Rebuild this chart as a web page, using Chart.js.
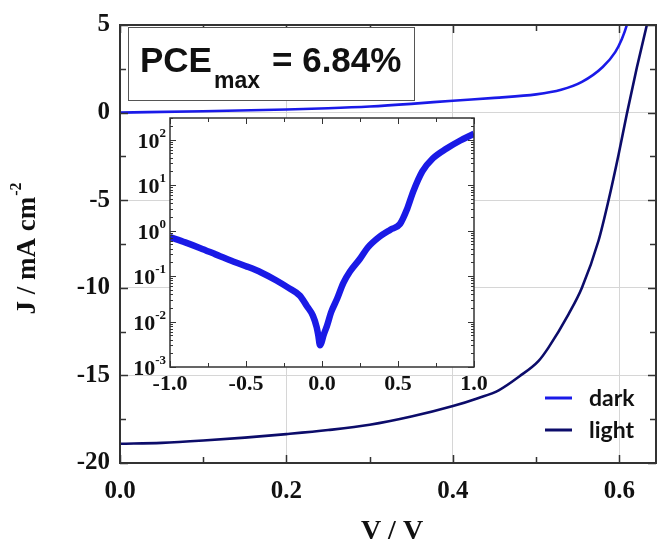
<!DOCTYPE html>
<html>
<head>
    <title>J-V curve</title>
    <script src="https://cdn.jsdelivr.net/npm/chart.js"></script>
    <style>
        body { margin: 0; background: #fff; }
        #wrap { position: relative; width: 657px; height: 542px; overflow: hidden; }
        #main { position: absolute; left: 0; top: 0; }
        #inset { position: absolute; left: 110px; top: 108px; }
    </style>
</head>
<body>
<div id="wrap">
    <canvas id="main" width="657" height="542"></canvas>
    <canvas id="inset" width="400" height="300"></canvas>
</div>
<script>
    // main J-V curves (V in volts, J in mA cm^-2)
    const darkV  = [0.00, 0.10, 0.20, 0.25, 0.30, 0.35, 0.40, 0.45, 0.50, 0.53, 0.555, 0.58, 0.595, 0.603, 0.609, 0.616];
    const darkJ  = [0.00, 0.08, 0.18, 0.25, 0.35, 0.50, 0.68, 0.84, 1.04, 1.30, 1.75, 2.60, 3.45, 4.20, 5.00, 6.30];
    const lightV = [0.00, 0.05, 0.10, 0.15, 0.20, 0.25, 0.30, 0.35, 0.40, 0.43, 0.455, 0.48, 0.503, 0.515, 0.539, 0.555, 0.575, 0.587, 0.599, 0.609, 0.621, 0.633, 0.640];
    const lightJ = [-18.9, -18.85, -18.72, -18.55, -18.35, -18.12, -17.82, -17.35, -16.75, -16.3, -15.85, -15.05, -14.17, -13.4, -11.5, -10.0, -7.3, -5.0, -2.4, -0.06, 2.57, 5.0, 6.3];

    // inset: |J| of dark curve on a log scale
    const insetV = [-1.00, -0.90, -0.80, -0.70, -0.60, -0.50, -0.40, -0.30, -0.22, -0.145, -0.10, -0.06, -0.035, -0.024, -0.013, -0.004, 0.01, 0.033, 0.06, 0.10, 0.14, 0.184, 0.25, 0.30, 0.38, 0.45, 0.513, 0.56, 0.60, 0.66, 0.73, 0.82, 0.91, 1.00];
    const insetJ = [0.72, 0.55, 0.41, 0.30, 0.22, 0.165, 0.12, 0.08, 0.055, 0.037, 0.022, 0.0135, 0.0075, 0.0049, 0.0030, 0.0034, 0.0050, 0.0081, 0.016, 0.032, 0.07, 0.126, 0.24, 0.42, 0.74, 1.05, 1.4, 3.0, 7.2, 20, 39, 64, 96, 135];

    // tick labels
    const xMajor = [0.0, 0.2, 0.4, 0.6];
    const yMajor = [-20, -15, -10, -5, 0, 5];
    const insetXMajor = [-1.0, -0.5, 0.0, 0.5, 1.0];
    const insetExp = [-3, -2, -1, 0, 1, 2];

    const seriesNames = ['dark', 'light'];
    const seriesColors = ['#1a1ae8', '#0c0c6a'];

    const serif = "'Liberation Serif', 'Times New Roman', serif";
    const sans = "'Liberation Sans', Arial, sans-serif";

    const pts = (xs, ys) => xs.map((v, i) => ({ x: v, y: ys[i] }));

    // frame + inward tick marks on all four sides
    const frameTicks = {
        id: 'frameTicks',
        afterDatasetsDraw(chart, args, opts) {
            const { ctx, chartArea: a } = chart;
            const x = chart.scales.x, y = chart.scales.y;
            ctx.save();
            ctx.strokeStyle = '#333';
            ctx.lineWidth = opts.frameWidth;
            ctx.strokeRect(a.left, a.top, a.right - a.left, a.bottom - a.top);
            ctx.lineWidth = opts.tickWidth;
            ctx.beginPath();
            opts.xTicks.forEach(([v, len]) => {
                const p = Math.round(x.getPixelForValue(v)) + 0.5;
                ctx.moveTo(p, a.bottom); ctx.lineTo(p, a.bottom - len);
                ctx.moveTo(p, a.top); ctx.lineTo(p, a.top + len);
            });
            opts.yTicks.forEach(([v, len]) => {
                const p = Math.round(y.getPixelForValue(v)) + 0.5;
                ctx.moveTo(a.left, p); ctx.lineTo(a.left + len, p);
                ctx.moveTo(a.right, p); ctx.lineTo(a.right - len, p);
            });
            ctx.stroke();
            ctx.restore();
        }
    };

    // axis titles, PCE box and legend of the main chart
    const decorations = {
        id: 'decorations',
        afterDraw(chart) {
            const ctx = chart.ctx;
            ctx.save();
            ctx.fillStyle = '#111';

            // y title with superscript
            ctx.translate(28, 249);
            ctx.rotate(-Math.PI / 2);
            ctx.font = 'bold 27px ' + serif;
            const base = 'J / mA cm';
            const bw = ctx.measureText(base).width;
            ctx.font = 'bold 16px ' + serif;
            const sw = ctx.measureText('-2').width;
            const start = -(bw + sw) / 2;
            ctx.textBaseline = 'middle';
            ctx.font = 'bold 27px ' + serif;
            ctx.fillText(base, start, 0);
            ctx.font = 'bold 16px ' + serif;
            ctx.fillText('-2', start + bw + 1, -11);
            ctx.setTransform(1, 0, 0, 1, 0, 0);

            // x title
            ctx.font = 'bold 28px ' + serif;
            ctx.textAlign = 'center';
            ctx.textBaseline = 'alphabetic';
            ctx.fillText('V / V', 392, 539);

            // PCE box
            ctx.fillStyle = '#fff';
            ctx.fillRect(128, 27, 286, 73);
            ctx.strokeStyle = '#555';
            ctx.lineWidth = 1;
            ctx.strokeRect(128.5, 27.5, 286, 73);
            ctx.fillStyle = '#111';
            ctx.textAlign = 'left';
            ctx.font = 'bold 35px ' + sans;
            ctx.fillText('PCE', 140, 72);
            const pw = ctx.measureText('PCE').width;
            ctx.font = 'bold 23px ' + sans;
            ctx.fillText('max', 140 + pw + 2, 88);
            ctx.font = 'bold 35px ' + sans;
            ctx.fillText('= 6.84%', 272, 72);

            // legend
            const rows = [398, 430];
            ctx.font = 'bold 23px Lato, ' + sans;
            ctx.textBaseline = 'middle';
            seriesNames.forEach((name, i) => {
                ctx.strokeStyle = seriesColors[i];
                ctx.lineWidth = 3;
                ctx.beginPath();
                ctx.moveTo(545, rows[i]); ctx.lineTo(572, rows[i]);
                ctx.stroke();
                ctx.fillStyle = '#111';
                ctx.fillText(name, 589, rows[i] + 1);
            });
            ctx.restore();
        }
    };

    const xMinor = [];
    for (let v = 0; v <= 0.6001; v += 0.1) xMinor.push([+v.toFixed(1), Math.abs(v / 0.2 - Math.round(v / 0.2)) < 1e-6 ? 8 : 6]);
    const yMinor = [];
    for (let v = -20; v <= 5; v += 2.5) yMinor.push([v, v % 5 === 0 ? 8 : 6]);

    new Chart(document.getElementById('main'), {
        type: 'scatter',
        data: {
            datasets: [
                { label: seriesNames[0], data: pts(darkV, darkJ), showLine: true, borderColor: seriesColors[0], borderWidth: 2.6, pointRadius: 0, cubicInterpolationMode: 'monotone' },
                { label: seriesNames[1], data: pts(lightV, lightJ), showLine: true, borderColor: seriesColors[1], borderWidth: 2.6, pointRadius: 0, cubicInterpolationMode: 'monotone' }
            ]
        },
        options: {
            responsive: false,
            animation: false,
            layout: { padding: { top: 25, right: 1, left: 0, bottom: 0 } },
            plugins: {
                legend: { display: false },
                tooltip: { enabled: false },
                frameTicks: { xTicks: xMinor, yTicks: yMinor, frameWidth: 2, tickWidth: 1.5 }
            },
            scales: {
                x: {
                    type: 'linear', min: 0, max: 0.644,
                    afterBuildTicks: s => { s.ticks = xMajor.map(v => ({ value: v })); },
                    afterFit: s => { s.height = 79; },
                    grid: { color: c => (c.tick && c.tick.value > 0) ? '#d6d6d6' : 'rgba(0,0,0,0)', drawTicks: false },
                    border: { display: false },
                    ticks: { font: { family: serif, size: 25, weight: 'bold' }, color: '#111', padding: 14, maxRotation: 0, autoSkip: false, callback: v => v.toFixed(1) }
                },
                y: {
                    type: 'linear', min: -20, max: 5,
                    afterBuildTicks: s => { s.ticks = yMajor.map(v => ({ value: v })); },
                    afterFit: s => { s.width = 120; },
                    grid: { color: c => (c.tick && c.tick.value > -20 && c.tick.value < 5) ? '#d6d6d6' : 'rgba(0,0,0,0)', drawTicks: false },
                    border: { display: false },
                    ticks: { font: { family: serif, size: 25, weight: 'bold' }, color: '#111', padding: 10, autoSkip: false, callback: v => String(v) }
                }
            }
        },
        plugins: [frameTicks, decorations]
    });

    // inset chart
    const whiteArea = {
        id: 'whiteArea',
        beforeDraw(chart) {
            const { ctx, chartArea: a } = chart;
            ctx.save();
            ctx.fillStyle = '#fff';
            ctx.fillRect(a.left, a.top, a.right - a.left, a.bottom - a.top);
            ctx.restore();
        }
    };

    const logLabels = {
        id: 'logLabels',
        afterDraw(chart) {
            const { ctx, chartArea: a } = chart;
            const y = chart.scales.y;
            ctx.save();
            ctx.fillStyle = '#111';
            ctx.textBaseline = 'alphabetic';
            insetExp.forEach(k => {
                const p = y.getPixelForValue(Math.pow(10, k));
                const ex = String(k);
                ctx.font = 'bold 13px ' + serif;
                const ew = ctx.measureText(ex).width;
                ctx.font = 'bold 22px ' + serif;
                const bw = ctx.measureText('10').width;
                const end = a.left - 4;
                ctx.fillText('10', end - ew - bw, p + 8);
                ctx.font = 'bold 13px ' + serif;
                ctx.fillText(ex, end - ew, p - 3);
            });
            ctx.restore();
        }
    };

    const insetXTicks = [];
    for (let v = -1; v <= 1.0001; v += 0.25) insetXTicks.push([+v.toFixed(2), Math.abs(v * 2 - Math.round(v * 2)) < 1e-6 ? 6 : 4]);
    const insetYTicks = [];
    for (let k = -3; k <= 2; k++) {
        for (let m = 1; m <= 9; m++) {
            const v = m * Math.pow(10, k);
            if (v <= 300) insetYTicks.push([v, m === 1 ? 6 : 3]);
        }
    }

    new Chart(document.getElementById('inset'), {
        type: 'scatter',
        data: {
            datasets: [
                { label: 'dark', data: pts(insetV, insetJ), showLine: true, borderColor: '#1a1ae6', borderWidth: 6.5, pointRadius: 0, cubicInterpolationMode: 'monotone' }
            ]
        },
        options: {
            responsive: false,
            animation: false,
            layout: { padding: { top: 10, right: 36, left: 0, bottom: 0 } },
            plugins: {
                legend: { display: false },
                tooltip: { enabled: false },
                frameTicks: { xTicks: insetXTicks, yTicks: insetYTicks, frameWidth: 1.5, tickWidth: 1 }
            },
            scales: {
                x: {
                    type: 'linear', min: -1, max: 1,
                    afterBuildTicks: s => { s.ticks = insetXMajor.map(v => ({ value: v })); },
                    afterFit: s => { s.height = 41; },
                    grid: { display: false, drawTicks: false },
                    border: { display: false },
                    ticks: { font: { family: serif, size: 22, weight: 'bold' }, color: '#111', padding: 4, maxRotation: 0, autoSkip: false, callback: v => v.toFixed(1) }
                },
                y: {
                    type: 'logarithmic', min: 0.001, max: 300,
                    afterFit: s => { s.width = 60; },
                    grid: { display: false, drawTicks: false },
                    border: { display: false },
                    ticks: { display: false }
                }
            }
        },
        plugins: [whiteArea, frameTicks, logLabels]
    });
</script>
</body>
</html>
